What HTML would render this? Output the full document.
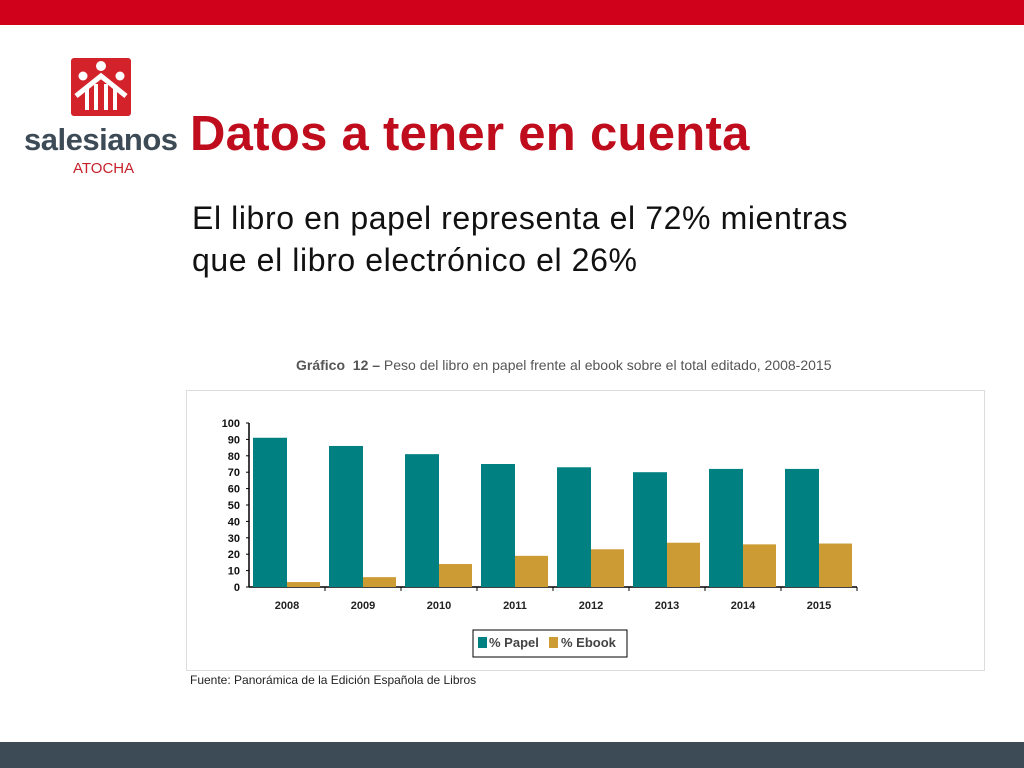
<!DOCTYPE html>
<html><head><meta charset="utf-8"><style>
body{margin:0;width:1024px;height:768px;position:relative;background:#fff;font-family:"Liberation Sans",sans-serif;overflow:hidden}
div{position:absolute}
</style></head><body>
<div style="left:0;top:0;width:1024px;height:25px;background:#d0011b"></div>
<div style="left:0;top:742px;width:1024px;height:26px;background:#3d4b57"></div>
<div style="left:24px;top:58px;width:155px;height:120px">
<svg width="155" height="120">
<rect x="47" y="0" width="60" height="58" rx="3" fill="#d3222a"/>
<circle cx="77" cy="8" r="5" fill="#fff"/><circle cx="59" cy="18" r="4.5" fill="#fff"/><circle cx="96" cy="18" r="4.5" fill="#fff"/>
<path d="M52 38 L77 18 L102 38" stroke="#fff" stroke-width="5" fill="none"/>
<rect x="61" y="30" width="4" height="22" fill="#fff"/><rect x="70" y="26" width="4" height="26" fill="#fff"/><rect x="80" y="26" width="4" height="26" fill="#fff"/><rect x="89" y="30" width="4" height="22" fill="#fff"/>
</svg>
<div style="left:0;top:64px;font-size:31px;font-weight:bold;color:#3d4b57;letter-spacing:-0.5px">salesianos</div>
<div style="left:49px;top:102px;font-size:15px;color:#c8202a">ATOCHA</div>
</div>
<div style="left:190px;top:106px;font-size:49px;font-weight:bold;color:#c00d1e;letter-spacing:0.3px">Datos a tener en cuenta</div>
<div style="left:192px;top:197px;font-size:32px;line-height:42px;color:#111;letter-spacing:0.6px">El libro en papel representa el 72% mientras<br>que el libro electrónico el 26%</div>
<div style="left:296px;top:357px;font-size:14px;color:#555"><b>Gráfico&nbsp; 12 –</b> Peso del libro en papel frente al ebook sobre el total editado, 2008-2015</div>
<div style="left:186px;top:390px;width:797px;height:279px;border:1px solid #ddd"></div>
<svg id="chart" width="1024" height="768" style="position:absolute;left:0;top:0"></svg>
<div style="left:190px;top:673px;font-size:12px;color:#222">Fuente: Panorámica de la Edición Española de Libros</div>
<script>
const categories=["2008","2009","2010","2011","2012","2013","2014","2015"];
const papel=[91,86,81,75,73,70,72,72];
const ebook=[3,6,14,19,23,27,26,26.5];
const yTicks=[0,10,20,30,40,50,60,70,80,90,100];
const svg=document.getElementById('chart');const NS="http://www.w3.org/2000/svg";
const x0=249,band=76,x1=x0+band*8,y0=587,y100=423;
const y=v=>y0-(v/100)*(y0-y100);
function mk(t,a,txt){const e=document.createElementNS(NS,t);for(const k in a)e.setAttribute(k,a[k]);if(txt!==undefined)e.textContent=txt;svg.appendChild(e);return e;}
let ax=mk('line',{x1:x0,y1:y100,x2:x0,y2:y0,stroke:'#000','stroke-width':1.5});


let bx=mk('line',{x1:x0,y1:y0,x2:x1,y2:y0,stroke:'#000','stroke-width':1.5});


yTicks.forEach(t=>{
 let l=mk('text',{x:x0-9,y:y(t)+4,'text-anchor':'end','font-size':11,'font-weight':'bold',fill:'#111'},t);
 
 
 mk('line',{x1:x0-3,x2:x0,y1:y(t),y2:y(t),stroke:'#000'});
});
categories.forEach((c,i)=>{
 const s=x0+i*band+4;
 let r=mk('rect',{x:s,y:y(papel[i]),width:34,height:y0-y(papel[i]),fill:'#008080'});
 
 
 let r2=mk('rect',{x:s+34,y:y(ebook[i]),width:33,height:y0-y(ebook[i]),fill:'#cc9b33'});
 
 
 mk('line',{x1:x0+(i+1)*band,x2:x0+(i+1)*band,y1:y0,y2:y0+4,stroke:'#000'});
 let t=mk('text',{x:s+34,y:y0+22,'text-anchor':'middle','font-size':11,'font-weight':'bold',fill:'#222'},c);
 
 
});
let lg=mk('rect',{x:473,y:630,width:154,height:27,fill:'#fff',stroke:'#000','stroke-width':1});


mk('rect',{x:478,y:637,width:9,height:11,fill:'#008080'});
let l1=mk('text',{x:489,y:647,'font-size':13,'font-weight':'bold',fill:'#444'},'% Papel');


mk('rect',{x:549,y:637,width:9,height:11,fill:'#cc9b33'});
let l2=mk('text',{x:561,y:647,'font-size':13,'font-weight':'bold',fill:'#444'},'% Ebook');


</script>
</body></html>
